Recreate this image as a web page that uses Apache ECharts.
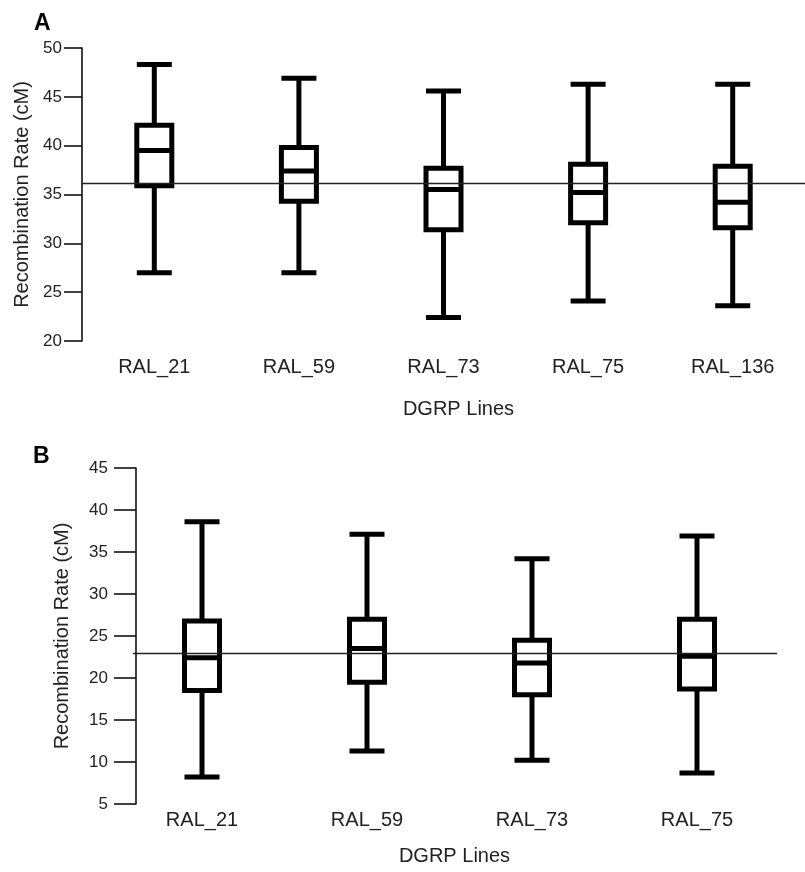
<!DOCTYPE html>
<html>
<head>
<meta charset="utf-8">
<script src="https://cdn.jsdelivr.net/npm/echarts@6/dist/echarts.min.js"></script>
<style>
  html, body { margin: 0; padding: 0; background: #fff; }
  #chart { width: 805px; height: 872px; }
</style>
</head>
<body>
<div id="chart"></div>
<script>
// Panel A: five DGRP lines, [min, Q1, median, Q3, max]
const linesA = ['RAL_21', 'RAL_59', 'RAL_73', 'RAL_75', 'RAL_136'];
const boxesA = [
    [27.0, 35.9, 39.5, 42.1, 48.3],
    [27.0, 34.3, 37.4, 39.8, 46.9],
    [22.4, 31.4, 35.5, 37.7, 45.6],
    [24.1, 32.1, 35.2, 38.1, 46.3],
    [23.6, 31.6, 34.2, 37.9, 46.3]
];
const meanA = 36.2;

// Panel B: four DGRP lines
const linesB = ['RAL_21', 'RAL_59', 'RAL_73', 'RAL_75'];
const boxesB = [
    [8.2, 18.5, 22.4, 26.8, 38.6],
    [11.3, 19.5, 23.5, 27.0, 37.1],
    [10.2, 18.0, 21.8, 24.5, 34.2],
    [8.7, 18.7, 22.6, 27.0, 36.9]
];
const meanB = 22.9;

const font = 'Liberation Sans, Arial, Helvetica, sans-serif';
const ink = '#111';

// Ejes Y compartiendo estilo
function valueAxis(gridIndex, min, max, tickLen, labelMargin, nameGap, offset) {
    return {
        type: 'value',
        gridIndex: gridIndex,
        min: min,
        max: max,
        interval: 5,
        offset: offset,
        name: 'Recombination Rate (cM)',
        nameLocation: 'middle',
        nameRotate: 90,
        nameGap: nameGap,
        nameTextStyle: { fontFamily: font, fontSize: 20, color: '#222' },
        axisLine: { show: true, lineStyle: { color: ink, width: 1.6 } },
        axisTick: { show: true, inside: false, length: tickLen, lineStyle: { color: ink, width: 1.6 } },
        axisLabel: { fontFamily: font, fontSize: 17, color: '#222', margin: labelMargin },
        splitLine: { show: false }
    };
}

function categoryAxis(gridIndex, data, labelMargin, nameGap, namePad) {
    return {
        type: 'category',
        gridIndex: gridIndex,
        data: data,
        name: 'DGRP Lines',
        nameLocation: 'middle',
        nameGap: nameGap,
        nameTextStyle: { fontFamily: font, fontSize: 20, color: '#222', padding: [0, 0, 0, namePad] },
        axisLine: { show: false },
        axisTick: { show: false },
        axisLabel: { fontFamily: font, fontSize: 20, color: '#222', margin: labelMargin, interval: 0 }
    };
}

function boxSeries(axisIndex, data, mean, x0, x1) {
    return {
        type: 'boxplot',
        xAxisIndex: axisIndex,
        yAxisIndex: axisIndex,
        data: data,
        boxWidth: [35, 35],
        itemStyle: { color: 'transparent', borderColor: '#000', borderWidth: 5 },
        markLine: {
            silent: true,
            symbol: 'none',
            label: { show: false },
            lineStyle: { color: '#222', width: 1.3, type: 'solid' },
            data: [[{ x: x0, yAxis: mean }, { x: x1, yAxis: mean }]]
        }
    };
}

const chart = echarts.init(document.getElementById('chart'));
chart.setOption({
    animation: false,
    backgroundColor: '#fff',
    title: [
        { text: 'A', left: 29, top: 7, textStyle: { fontFamily: font, fontSize: 23, fontWeight: 'bold', color: '#000' } },
        { text: 'B', left: 28, top: 440, textStyle: { fontFamily: font, fontSize: 23, fontWeight: 'bold', color: '#000' } }
    ],
    grid: [
        { left: 82, right: 0, top: 48, height: 293 },
        { left: 119.5, width: 660, top: 468, height: 336 }
    ],
    xAxis: [
        categoryAxis(0, linesA, 16, 58, 30),
        categoryAxis(1, linesB, 6, 42, 10)
    ],
    yAxis: [
        valueAxis(0, 20, 50, 18, 20, 50, 0),
        valueAxis(1, 5, 45, 22, 28, 64, -16.5)
    ],
    series: [
        boxSeries(0, boxesA, meanA, 82, 805),
        boxSeries(1, boxesB, meanB, 133, 777)
    ]
});
</script>
</body>
</html>
